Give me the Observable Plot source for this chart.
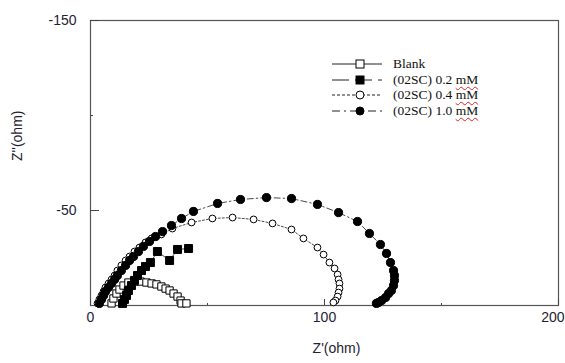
<!DOCTYPE html>
<html>
<head>
<meta charset="utf-8">
<script src="https://cdn.jsdelivr.net/npm/d3@7"></script>
<script src="https://cdn.jsdelivr.net/npm/@observablehq/plot@0.6"></script>
<style>
  html, body { margin: 0; padding: 0; background: #fff; }
  #wrap { position: relative; width: 565px; height: 363px; }
  #legend { position: absolute; left: 330px; top: 56px; font-family: "Liberation Serif", "Times New Roman", serif; font-size: 13.5px; color: #111; }
  .row { display: flex; align-items: center; height: 15.7px; }
  .row svg { display: block; }
  .row span.t { margin-left: 9px; white-space: pre; }
  .sq { text-decoration: underline wavy #e02020; text-decoration-thickness: 1px; text-underline-offset: 2px; }
</style>
</head>
<body>
<div id="wrap"><div id="chart"></div><div id="legend"></div></div>
<script>
// ---- data (Z' in ohm, Z'' in ohm) ----
const blankX = [9.0, 9.8, 11.1, 12.4, 14.1, 16.2, 18.8, 21.4, 23.9, 26.1, 28.2, 30.3, 32.1, 33.8, 35.5, 37.2, 38.5, 38.9, 41.0];
const blankY = [-1.1, -3.7, -6.3, -8.4, -10.5, -12.1, -12.6, -12.6, -12.1, -11.6, -11.1, -10.0, -8.9, -7.9, -6.3, -4.7, -2.6, -1.1, -1.1];

const c02X = [13.7, 14.5, 15.4, 16.2, 17.5, 18.8, 20.1, 21.8, 23.5, 25.6, 28.6, 33.8, 37.2, 41.9];
const c02Y = [-1.1, -3.2, -5.3, -7.9, -10.5, -13.2, -15.8, -18.4, -20.5, -22.6, -28.4, -23.7, -29.5, -30.0];

const c04X = [3.0, 3.8, 4.7, 5.6, 6.4, 7.7, 9.0, 10.3, 11.5, 13.2, 15.0, 16.7, 18.8, 20.9, 23.5, 26.1, 30.3, 35.0, 43.2, 52.1, 60.7, 69.7, 77.8, 85.9, 91.0, 97.0, 99.6, 102.1, 104.3, 105.6, 106.0, 106.4, 106.4, 106.0, 105.6, 104.7, 103.8];
const c04Y = [-1.1, -3.2, -5.3, -7.4, -9.5, -11.6, -13.7, -15.8, -18.4, -21.1, -23.7, -25.8, -28.4, -30.5, -33.2, -35.3, -37.4, -40.5, -43.7, -45.8, -46.3, -45.3, -43.2, -40.0, -35.3, -30.5, -26.8, -22.6, -19.5, -16.3, -13.7, -11.6, -8.9, -6.8, -4.7, -2.6, -1.6];

const c10X = [3.8, 4.7, 5.6, 6.4, 7.7, 9.0, 10.3, 11.5, 13.2, 15.0, 16.7, 18.4, 20.5, 22.6, 25.2, 27.8, 30.8, 34.6, 38.9, 44.0, 54.3, 64.1, 75.2, 85.9, 97.0, 106.0, 114.1, 119.2, 123.9, 126.5, 128.2, 129.5, 129.9, 129.9, 129.5, 128.6, 127.4, 126.1, 124.4, 123.1, 122.2];
const c10Y = [-1.1, -3.2, -5.3, -7.4, -9.5, -11.6, -13.7, -15.8, -18.4, -21.1, -23.7, -25.8, -28.4, -31.1, -33.7, -36.3, -38.9, -42.1, -45.8, -49.5, -53.7, -55.8, -56.8, -56.3, -53.2, -48.9, -44.2, -37.9, -32.1, -27.4, -22.6, -18.4, -15.8, -13.2, -10.5, -7.9, -6.3, -4.2, -2.6, -1.6, -1.1];

const seriesNames = ["Blank", "(02SC) 0.2 mM", "(02SC) 0.4 mM", "(02SC) 1.0 mM"];
const xMajorTicks = [0, 100, 200];
const xMinorTicks = [50, 150];
const xLabelTicks = [0, 100];
const xEdgeTicks = [200];
const yMajorTicks = [-150, -50];
const yMinorTicks = [-100];
const xTitle = "Z'(ohm)";
const yTitle = "Z''(ohm)";

// ---- styles per series ----
const styles = {
  "Blank":         {symbol: "square", fill: "white", r: 4.1, dash: null},
  "(02SC) 0.2 mM": {symbol: "square", fill: "black", r: 4.5, dash: null},
  "(02SC) 0.4 mM": {symbol: "circle", fill: "white", r: 3.4, dash: "2,2"},
  "(02SC) 1.0 mM": {symbol: "circle", fill: "black", r: 4.1, dash: "6,3,1.5,3"}
};
const table = (name, xs, ys) => xs.map((x, i) => ({name, x, y: ys[i]}));
const data = {
  "Blank": table(seriesNames[0], blankX, blankY),
  "(02SC) 0.2 mM": table(seriesNames[1], c02X, c02Y),
  "(02SC) 0.4 mM": table(seriesNames[2], c04X, c04Y),
  "(02SC) 1.0 mM": table(seriesNames[3], c10X, c10Y)
};
const drawOrder = [seriesNames[0], seriesNames[2], seriesNames[3], seriesNames[1]];

const seriesMarks = drawOrder.flatMap(n => {
  const s = styles[n];
  return [
    Plot.line(data[n], {x: "x", y: "y", stroke: "#333", strokeWidth: 0.9, strokeDasharray: s.dash}),
    Plot.dot(data[n], {x: "x", y: "y", symbol: s.symbol, fill: s.fill, stroke: "black", strokeWidth: 1, r: s.r})
  ];
});

const fmt = d => String(d);

const chart = Plot.plot({
  width: 565,
  height: 363,
  marginLeft: 90,
  marginRight: 7,
  marginTop: 20,
  marginBottom: 58,
  style: {fontFamily: "'Liberation Sans', Arial, sans-serif", fontSize: "14px", color: "#1e2233", background: "white"},
  x: {domain: [0, 200]},
  y: {domain: [0, -150]},
  marks: [
    Plot.frame({stroke: "#555", strokeWidth: 1.2}),
    Plot.axisX({ticks: xMajorTicks, tickSize: -6, tickFormat: () => "", label: null, stroke: "#444"}),
    Plot.axisX({ticks: xMinorTicks, tickSize: -2, tickFormat: () => "", label: null, stroke: "#444"}),
    Plot.axisX({ticks: xLabelTicks, tickSize: 0, tickPadding: 7, tickFormat: fmt, label: null, fontSize: 14}),
    Plot.axisX({ticks: xEdgeTicks, tickSize: 0, tickPadding: 7, tickFormat: fmt, label: null, fontSize: 14, textAnchor: "end", dx: 6}),
    Plot.axisY({ticks: yMajorTicks, tickSize: -9, tickFormat: () => "", label: null, stroke: "#444"}),
    Plot.axisY({ticks: yMinorTicks, tickSize: -3, tickFormat: () => "", label: null, stroke: "#444"}),
    Plot.axisY({ticks: yMajorTicks, tickSize: 0, tickPadding: 14, tickFormat: fmt, label: null, fontSize: 14}),
    Plot.text([xTitle], {frameAnchor: "bottom", dx: 12, dy: 47, fontSize: 14}),
    Plot.text([yTitle], {frameAnchor: "left", rotate: -90, dx: -73, dy: -2, fontSize: 14}),
    ...seriesMarks
  ]
});
document.getElementById("chart").appendChild(chart);

// ---- legend (HTML overlay) ----
const legendSwatch = {
  "Blank":         {dash: null},
  "(02SC) 0.2 mM": {dash: "17,6"},
  "(02SC) 0.4 mM": {dash: "3,2"},
  "(02SC) 1.0 mM": {dash: "8,4,2,4"}
};
const legend = document.getElementById("legend");
const NS = "http://www.w3.org/2000/svg";
seriesNames.forEach(n => {
  const row = document.createElement("div");
  row.className = "row";
  const svg = document.createElementNS(NS, "svg");
  svg.setAttribute("width", 54); svg.setAttribute("height", 14);
  const ln = document.createElementNS(NS, "line");
  ln.setAttribute("x1", 2); ln.setAttribute("x2", 52); ln.setAttribute("y1", 7); ln.setAttribute("y2", 7);
  ln.setAttribute("stroke", "#222"); ln.setAttribute("stroke-width", 1);
  if (legendSwatch[n].dash) ln.setAttribute("stroke-dasharray", legendSwatch[n].dash);
  svg.appendChild(ln);
  const s = styles[n];
  let m;
  if (s.symbol === "square") {
    m = document.createElementNS(NS, "rect");
    m.setAttribute("x", 26); m.setAttribute("y", 3); m.setAttribute("width", 8); m.setAttribute("height", 8);
  } else {
    m = document.createElementNS(NS, "circle");
    m.setAttribute("cx", 30); m.setAttribute("cy", 7); m.setAttribute("r", 4);
  }
  m.setAttribute("fill", s.fill); m.setAttribute("stroke", "black"); m.setAttribute("stroke-width", 1);
  svg.appendChild(m);
  row.appendChild(svg);
  const t = document.createElement("span");
  t.className = "t";
  if (n.endsWith("mM")) {
    t.appendChild(document.createTextNode(n.slice(0, -2)));
    const u = document.createElement("span");
    u.className = "sq";
    u.textContent = "mM";
    t.appendChild(u);
  } else {
    t.textContent = n;
  }
  row.appendChild(t);
  legend.appendChild(row);
});
</script>
</body>
</html>
